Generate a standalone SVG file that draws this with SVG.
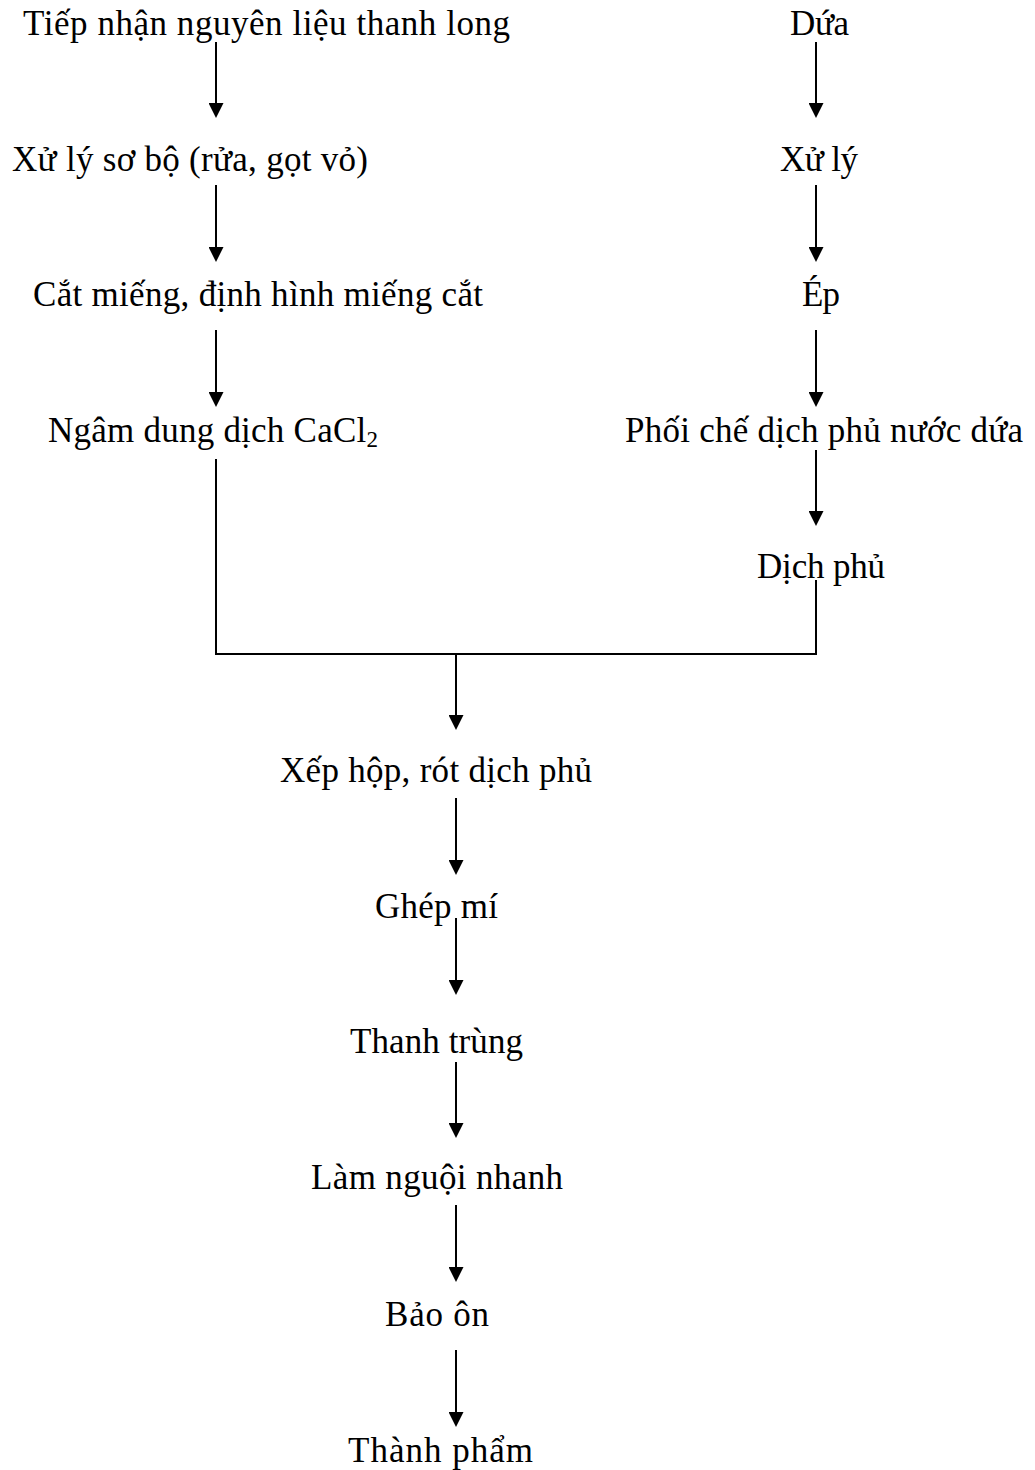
<svg xmlns="http://www.w3.org/2000/svg" width="1035" height="1470" viewBox="0 0 1035 1470">
<style>
text{font-family:"Liberation Serif","Times New Roman",serif;font-size:35px;fill:#000}
.c{stroke:#000;stroke-width:2;fill:none}
</style>
<defs>
<marker id="ah" markerUnits="userSpaceOnUse" markerWidth="15" markerHeight="15" refX="0" refY="7.5" orient="auto" viewBox="0 0 15 15">
<path d="M0,0 L15,7.5 L0,15 z" fill="#000"/>
</marker>
</defs>
<rect width="1035" height="1470" fill="#fff"/>
<g id="connectors">
<path class="c" d="M216,42 V103" marker-end="url(#ah)"/>
<path class="c" d="M216,185 V247" marker-end="url(#ah)"/>
<path class="c" d="M216,330 V392" marker-end="url(#ah)"/>
<path class="c" d="M816,42 V103" marker-end="url(#ah)"/>
<path class="c" d="M816,185 V247" marker-end="url(#ah)"/>
<path class="c" d="M816,330 V392" marker-end="url(#ah)"/>
<path class="c" d="M816,450 V511" marker-end="url(#ah)"/>
<path class="c" d="M216,459 V654 H816 V580"/>
<path class="c" d="M456,654 V715" marker-end="url(#ah)"/>
<path class="c" d="M456,798 V860" marker-end="url(#ah)"/>
<path class="c" d="M456,918 V980" marker-end="url(#ah)"/>
<path class="c" d="M456,1062 V1123" marker-end="url(#ah)"/>
<path class="c" d="M456,1205 V1267" marker-end="url(#ah)"/>
<path class="c" d="M456,1350 V1412" marker-end="url(#ah)"/>
</g>
<g id="n1"><text x="23" y="35" textLength="487" lengthAdjust="spacing">Tiếp nhận nguyên liệu thanh long</text></g>
<g id="n2"><text x="12" y="171" textLength="356" lengthAdjust="spacing">Xử lý sơ bộ (rửa, gọt vỏ)</text></g>
<g id="n3"><text x="33" y="306" textLength="450" lengthAdjust="spacing">Cắt miếng, định hình miếng cắt</text></g>
<g id="n4"><text x="48" y="442" textLength="330" lengthAdjust="spacing">Ngâm dung dịch CaCl<tspan font-size="23" dy="5">2</tspan></text></g>
<g id="r1"><text x="790" y="35" textLength="59" lengthAdjust="spacing">Dứa</text></g>
<g id="r2"><text x="780" y="171" textLength="78" lengthAdjust="spacing">Xử lý</text></g>
<g id="r3"><text x="802" y="306" textLength="38" lengthAdjust="spacing">Ép</text></g>
<g id="r4"><text x="625" y="442" textLength="398" lengthAdjust="spacing">Phối chế dịch phủ nước dứa</text></g>
<g id="r5"><text x="757" y="578" textLength="128" lengthAdjust="spacing">Dịch phủ</text></g>
<g id="c1"><text x="280" y="782" textLength="312" lengthAdjust="spacing">Xếp hộp, rót dịch phủ</text></g>
<g id="c2"><text x="375" y="918" textLength="123" lengthAdjust="spacing">Ghép mí</text></g>
<g id="c3"><text x="350" y="1053" textLength="173" lengthAdjust="spacing">Thanh trùng</text></g>
<g id="c4"><text x="311" y="1189" textLength="252" lengthAdjust="spacing">Làm nguội nhanh</text></g>
<g id="c5"><text x="385" y="1326" textLength="104" lengthAdjust="spacing">Bảo ôn</text></g>
<g id="c6"><text x="348" y="1462" textLength="185" lengthAdjust="spacing">Thành phẩm</text></g>
</svg>
